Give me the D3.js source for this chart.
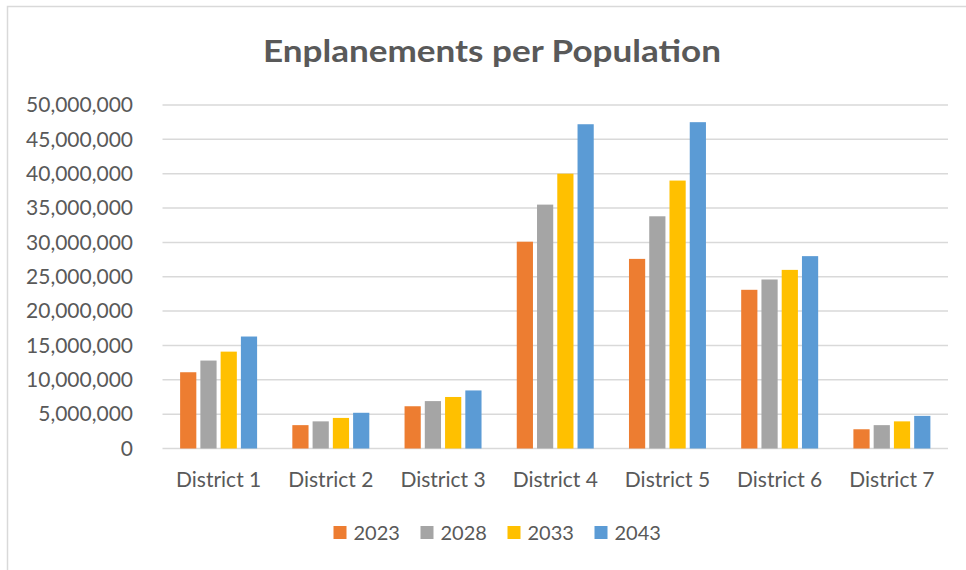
<!DOCTYPE html>
<html>
<head>
<meta charset="utf-8">
<script src="https://cdn.jsdelivr.net/npm/d3@7"></script>
<style>
  html, body { margin: 0; padding: 0; background: #fff; }
  svg { display: block; }
  text { font-family: Lato, "Open Sans", sans-serif; fill: #595959; }
</style>
</head>
<body>
<svg id="chart" width="966" height="570"></svg>
<script>
// Districts along the x axis
const districts = ["District 1", "District 2", "District 3", "District 4", "District 5", "District 6", "District 7"];
// Forecast years (one bar per year in each district)
const years = ["2023", "2028", "2033", "2043"];
// Enplanements per district, one array per year
const values2023 = [11100000, 3400000, 6150000, 30100000, 27600000, 23100000, 2800000];
const values2028 = [12800000, 3950000, 6900000, 35500000, 33800000, 24600000, 3400000];
const values2033 = [14100000, 4450000, 7500000, 40000000, 39000000, 26000000, 3950000];
const values2043 = [16300000, 5200000, 8450000, 47200000, 47500000, 28000000, 4750000];
// Y-axis ticks
const yTicks = [0, 5000000, 10000000, 15000000, 20000000, 25000000, 30000000, 35000000, 40000000, 45000000, 50000000];

const seriesValues = [values2023, values2028, values2033, values2043];
const colors = ["#ED7D31", "#A5A5A5", "#FFC000", "#5B9BD5"];

const svg = d3.select("#chart");
const plot = { left: 162.5, right: 948, top: 105, bottom: 448.5 };

// Chart frame (top and left edges)
svg.append("path")
  .attr("d", "M7.5,570 V6.5 H966")
  .attr("fill", "none")
  .attr("stroke", "#D9D9D9")
  .attr("stroke-width", 1.5);

// Title
svg.append("text")
  .attr("x", 492)
  .attr("y", 61.5)
  .attr("text-anchor", "middle")
  .attr("font-size", 31)
  .attr("font-weight", 700)
  .attr("textLength", 458)
  .attr("lengthAdjust", "spacingAndGlyphs")
  .text("Enplanements per Population");

const y = d3.scaleLinear().domain([0, 50000000]).range([plot.bottom, plot.top]);
const x0 = d3.scaleBand().domain(districts).range([plot.left, plot.right])
  .paddingInner(0.314).paddingOuter(0.157);
const x1 = d3.scaleBand().domain(years).range([0, x0.bandwidth()])
  .paddingInner(0.2).paddingOuter(0);

// Horizontal gridlines
svg.append("g").selectAll("line").data(yTicks).join("line")
  .attr("x1", plot.left).attr("x2", plot.right)
  .attr("y1", d => y(d)).attr("y2", d => y(d))
  .attr("stroke", "#D9D9D9").attr("stroke-width", 1.5);

// Y axis labels
const yAxis = d3.axisLeft(y).tickValues(yTicks).tickSize(0).tickPadding(0)
  .tickFormat(d3.format(","));
svg.append("g")
  .attr("transform", `translate(133,0)`)
  .call(yAxis)
  .call(g => g.select(".domain").remove())
  .call(g => g.selectAll("text")
    .attr("font-size", 21)
    .attr("fill", "#595959")
    .attr("font-family", "Lato, 'Open Sans', sans-serif"));

// Bars
const groups = svg.append("g").selectAll("g").data(districts).join("g")
  .attr("transform", d => `translate(${x0(d)},0)`);
groups.selectAll("rect")
  .data((d, i) => years.map((yr, s) => ({ year: yr, value: seriesValues[s][i], color: colors[s] })))
  .join("rect")
  .attr("x", d => x1(d.year))
  .attr("width", x1.bandwidth())
  .attr("y", d => y(d.value))
  .attr("height", d => y(0) - y(d.value))
  .attr("fill", d => d.color);

// Category labels
const xAxis = d3.axisBottom(x0).tickSize(0).tickPadding(0);
svg.append("g")
  .attr("transform", `translate(0,${plot.bottom})`)
  .call(xAxis)
  .call(g => g.select(".domain").remove())
  .call(g => g.selectAll("text")
    .attr("dy", null)
    .attr("y", 38)
    .attr("font-size", 21)
    .attr("fill", "#595959")
    .attr("font-family", "Lato, 'Open Sans', sans-serif"));

// Legend
const legend = svg.append("g").selectAll("g").data(years).join("g")
  .attr("transform", (d, i) => `translate(${333.5 + i * 87},0)`);
legend.append("rect")
  .attr("x", 0).attr("y", 526).attr("width", 13).attr("height", 13)
  .attr("fill", (d, i) => colors[i]);
legend.append("text")
  .attr("x", 20).attr("y", 539.5)
  .attr("font-size", 20)
  .text(d => d);
</script>
</body>
</html>
